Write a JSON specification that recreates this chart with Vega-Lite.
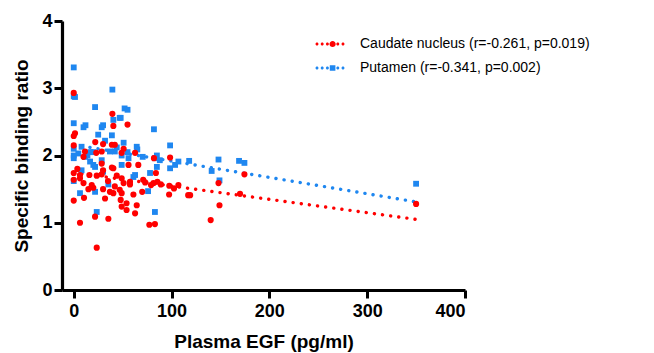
{
  "$schema": "https://vega.github.io/schema/vega-lite/v6.json",
  "width": 403,
  "height": 269,
  "autosize": {"type": "none"},
  "padding": {"left": 62, "top": 21, "right": 189, "bottom": 63},
  "background": "white",
  "config": {
    "view": {"stroke": null},
    "axis": {
      "grid": false,
      "domainColor": "black",
      "domainWidth": 3.2,
      "tickColor": "black",
      "tickWidth": 3,
      "tickSize": 8,
      "labelFont": "Liberation Sans",
      "labelFontWeight": "bold",
      "labelFontSize": 18,
      "labelColor": "black",
      "titleFont": "Liberation Sans",
      "titleFontWeight": "bold",
      "titleFontSize": 19,
      "titleColor": "black"
    }
  },
  "datasets": {
    "points": [
      {"region": "Putamen", "egf": 0, "sbr": 3.31},
      {"region": "Putamen", "egf": 39.5, "sbr": 2.98},
      {"region": "Putamen", "egf": 0, "sbr": 2.88},
      {"region": "Putamen", "egf": 1.3, "sbr": 2.87},
      {"region": "Putamen", "egf": 21.8, "sbr": 2.72},
      {"region": "Putamen", "egf": 0, "sbr": 2.48},
      {"region": "Putamen", "egf": 10, "sbr": 2.42},
      {"region": "Putamen", "egf": 12, "sbr": 2.45},
      {"region": "Putamen", "egf": 28.6, "sbr": 2.42},
      {"region": "Putamen", "egf": 30, "sbr": 2.45},
      {"region": "Putamen", "egf": 25, "sbr": 2.31},
      {"region": "Putamen", "egf": 40.5, "sbr": 2.53},
      {"region": "Putamen", "egf": 47, "sbr": 2.56},
      {"region": "Putamen", "egf": 52, "sbr": 2.7},
      {"region": "Putamen", "egf": 39, "sbr": 2.3},
      {"region": "Putamen", "egf": 0, "sbr": 2.1},
      {"region": "Putamen", "egf": 8, "sbr": 2.13},
      {"region": "Putamen", "egf": 17, "sbr": 2.05},
      {"region": "Putamen", "egf": 20, "sbr": 2.05},
      {"region": "Putamen", "egf": 55, "sbr": 2.68},
      {"region": "Putamen", "egf": 48, "sbr": 2.56},
      {"region": "Putamen", "egf": 82, "sbr": 2.39},
      {"region": "Putamen", "egf": 98.5, "sbr": 2.15},
      {"region": "Putamen", "egf": 51, "sbr": 2.19},
      {"region": "Putamen", "egf": 64.4, "sbr": 2.13},
      {"region": "Putamen", "egf": 65, "sbr": 2.09},
      {"region": "Putamen", "egf": 85, "sbr": 2.0},
      {"region": "Putamen", "egf": 70.5, "sbr": 1.98},
      {"region": "Putamen", "egf": 0, "sbr": 1.96},
      {"region": "Putamen", "egf": 6.4, "sbr": 1.44},
      {"region": "Putamen", "egf": 21.8, "sbr": 1.46},
      {"region": "Putamen", "egf": 35.4, "sbr": 1.57},
      {"region": "Putamen", "egf": 23.5, "sbr": 1.16},
      {"region": "Putamen", "egf": 4.7, "sbr": 2.03},
      {"region": "Putamen", "egf": 11.5, "sbr": 1.98},
      {"region": "Putamen", "egf": 16.7, "sbr": 1.91},
      {"region": "Putamen", "egf": 20, "sbr": 1.86},
      {"region": "Putamen", "egf": 21.8, "sbr": 1.83},
      {"region": "Putamen", "egf": 28.6, "sbr": 1.93},
      {"region": "Putamen", "egf": 30, "sbr": 1.76},
      {"region": "Putamen", "egf": 37, "sbr": 2.06},
      {"region": "Putamen", "egf": 42, "sbr": 2.06},
      {"region": "Putamen", "egf": 49, "sbr": 2.0},
      {"region": "Putamen", "egf": 56, "sbr": 1.96},
      {"region": "Putamen", "egf": 83, "sbr": 1.96},
      {"region": "Putamen", "egf": 88, "sbr": 1.93},
      {"region": "Putamen", "egf": 107, "sbr": 1.91},
      {"region": "Putamen", "egf": 98.5, "sbr": 1.81},
      {"region": "Putamen", "egf": 103.6, "sbr": 1.86},
      {"region": "Putamen", "egf": 49, "sbr": 1.86},
      {"region": "Putamen", "egf": 78, "sbr": 1.74},
      {"region": "Putamen", "egf": 85, "sbr": 1.83},
      {"region": "Putamen", "egf": 61, "sbr": 1.68},
      {"region": "Putamen", "egf": 62.7, "sbr": 1.71},
      {"region": "Putamen", "egf": 76, "sbr": 1.47},
      {"region": "Putamen", "egf": 83, "sbr": 1.16},
      {"region": "Putamen", "egf": 118, "sbr": 1.92},
      {"region": "Putamen", "egf": 148, "sbr": 1.94},
      {"region": "Putamen", "egf": 141, "sbr": 1.77},
      {"region": "Putamen", "egf": 169, "sbr": 1.92},
      {"region": "Putamen", "egf": 174.5, "sbr": 1.89},
      {"region": "Putamen", "egf": 149, "sbr": 1.63},
      {"region": "Putamen", "egf": 350, "sbr": 1.58},
      {"region": "Putamen", "egf": 0, "sbr": 2.0},
      {"region": "Putamen", "egf": 55, "sbr": 2.05},
      {"region": "Putamen", "egf": 44, "sbr": 2.12},
      {"region": "Putamen", "egf": 32, "sbr": 2.22},
      {"region": "Putamen", "egf": 14, "sbr": 2.0},
      {"region": "Putamen", "egf": 8, "sbr": 1.78},
      {"region": "Putamen", "egf": 0, "sbr": 1.62},
      {"region": "Caudate nucleus", "egf": 0, "sbr": 2.93},
      {"region": "Caudate nucleus", "egf": 39.5, "sbr": 2.62},
      {"region": "Caudate nucleus", "egf": 40.5, "sbr": 2.44},
      {"region": "Caudate nucleus", "egf": 1.3, "sbr": 2.33},
      {"region": "Caudate nucleus", "egf": 0, "sbr": 2.29},
      {"region": "Caudate nucleus", "egf": 0, "sbr": 2.15},
      {"region": "Caudate nucleus", "egf": 22, "sbr": 2.2},
      {"region": "Caudate nucleus", "egf": 30, "sbr": 2.17},
      {"region": "Caudate nucleus", "egf": 39, "sbr": 2.16},
      {"region": "Caudate nucleus", "egf": 42, "sbr": 2.16},
      {"region": "Caudate nucleus", "egf": 11.5, "sbr": 2.06},
      {"region": "Caudate nucleus", "egf": 23, "sbr": 2.04},
      {"region": "Caudate nucleus", "egf": 28.6, "sbr": 2.06},
      {"region": "Caudate nucleus", "egf": 55, "sbr": 2.46},
      {"region": "Caudate nucleus", "egf": 51, "sbr": 2.1},
      {"region": "Caudate nucleus", "egf": 62.7, "sbr": 2.04},
      {"region": "Caudate nucleus", "egf": 0, "sbr": 1.74},
      {"region": "Caudate nucleus", "egf": 0, "sbr": 1.64},
      {"region": "Caudate nucleus", "egf": 6.4, "sbr": 1.71},
      {"region": "Caudate nucleus", "egf": 6.4, "sbr": 1.66},
      {"region": "Caudate nucleus", "egf": 3.7, "sbr": 1.8},
      {"region": "Caudate nucleus", "egf": 16, "sbr": 1.71},
      {"region": "Caudate nucleus", "egf": 23.5, "sbr": 1.7},
      {"region": "Caudate nucleus", "egf": 30, "sbr": 1.78},
      {"region": "Caudate nucleus", "egf": 28.6, "sbr": 1.72},
      {"region": "Caudate nucleus", "egf": 39, "sbr": 1.82},
      {"region": "Caudate nucleus", "egf": 40.5, "sbr": 1.81},
      {"region": "Caudate nucleus", "egf": 10, "sbr": 1.59},
      {"region": "Caudate nucleus", "egf": 0, "sbr": 1.33},
      {"region": "Caudate nucleus", "egf": 10.5, "sbr": 1.37},
      {"region": "Caudate nucleus", "egf": 15, "sbr": 1.5},
      {"region": "Caudate nucleus", "egf": 18.4, "sbr": 1.56},
      {"region": "Caudate nucleus", "egf": 20, "sbr": 1.52},
      {"region": "Caudate nucleus", "egf": 32, "sbr": 1.36},
      {"region": "Caudate nucleus", "egf": 37, "sbr": 1.46},
      {"region": "Caudate nucleus", "egf": 40.5, "sbr": 1.44},
      {"region": "Caudate nucleus", "egf": 42, "sbr": 1.54},
      {"region": "Caudate nucleus", "egf": 47, "sbr": 1.49},
      {"region": "Caudate nucleus", "egf": 48, "sbr": 1.34},
      {"region": "Caudate nucleus", "egf": 21.8, "sbr": 1.09},
      {"region": "Caudate nucleus", "egf": 6.4, "sbr": 1.0},
      {"region": "Caudate nucleus", "egf": 35.4, "sbr": 1.06},
      {"region": "Caudate nucleus", "egf": 23.5, "sbr": 0.63},
      {"region": "Caudate nucleus", "egf": 28.6, "sbr": 1.88},
      {"region": "Caudate nucleus", "egf": 10, "sbr": 1.98},
      {"region": "Caudate nucleus", "egf": 49, "sbr": 2.04},
      {"region": "Caudate nucleus", "egf": 98.5, "sbr": 1.97},
      {"region": "Caudate nucleus", "egf": 82, "sbr": 1.96},
      {"region": "Caudate nucleus", "egf": 56, "sbr": 1.86},
      {"region": "Caudate nucleus", "egf": 66, "sbr": 1.86},
      {"region": "Caudate nucleus", "egf": 84, "sbr": 1.74},
      {"region": "Caudate nucleus", "egf": 49, "sbr": 1.66},
      {"region": "Caudate nucleus", "egf": 51, "sbr": 1.59},
      {"region": "Caudate nucleus", "egf": 57.5, "sbr": 1.61},
      {"region": "Caudate nucleus", "egf": 57.5, "sbr": 1.57},
      {"region": "Caudate nucleus", "egf": 71, "sbr": 1.64},
      {"region": "Caudate nucleus", "egf": 73, "sbr": 1.6},
      {"region": "Caudate nucleus", "egf": 79, "sbr": 1.56},
      {"region": "Caudate nucleus", "egf": 81.5, "sbr": 1.59},
      {"region": "Caudate nucleus", "egf": 85.5, "sbr": 1.61},
      {"region": "Caudate nucleus", "egf": 89, "sbr": 1.57},
      {"region": "Caudate nucleus", "egf": 97.7, "sbr": 1.55},
      {"region": "Caudate nucleus", "egf": 102.5, "sbr": 1.51},
      {"region": "Caudate nucleus", "egf": 107, "sbr": 1.56},
      {"region": "Caudate nucleus", "egf": 117, "sbr": 1.41},
      {"region": "Caudate nucleus", "egf": 97.5, "sbr": 1.42},
      {"region": "Caudate nucleus", "egf": 61, "sbr": 1.42},
      {"region": "Caudate nucleus", "egf": 70, "sbr": 1.46},
      {"region": "Caudate nucleus", "egf": 49, "sbr": 1.44},
      {"region": "Caudate nucleus", "egf": 54, "sbr": 1.29},
      {"region": "Caudate nucleus", "egf": 54, "sbr": 1.19},
      {"region": "Caudate nucleus", "egf": 49, "sbr": 1.24},
      {"region": "Caudate nucleus", "egf": 64.4, "sbr": 1.26},
      {"region": "Caudate nucleus", "egf": 62.7, "sbr": 1.14},
      {"region": "Caudate nucleus", "egf": 77.3, "sbr": 0.97},
      {"region": "Caudate nucleus", "egf": 83, "sbr": 0.98},
      {"region": "Caudate nucleus", "egf": 119, "sbr": 1.41},
      {"region": "Caudate nucleus", "egf": 148, "sbr": 1.59},
      {"region": "Caudate nucleus", "egf": 170, "sbr": 1.43},
      {"region": "Caudate nucleus", "egf": 174.5, "sbr": 1.72},
      {"region": "Caudate nucleus", "egf": 149, "sbr": 1.26},
      {"region": "Caudate nucleus", "egf": 140, "sbr": 1.04},
      {"region": "Caudate nucleus", "egf": 350, "sbr": 1.28},
      {"region": "Caudate nucleus", "egf": 30, "sbr": 1.5},
      {"region": "Caudate nucleus", "egf": 35, "sbr": 1.62},
      {"region": "Caudate nucleus", "egf": 44, "sbr": 1.7}
    ],
    "fits": [
      {"region": "Caudate nucleus", "egf": 0, "sbr": 1.745},
      {"region": "Caudate nucleus", "egf": 350, "sbr": 1.05},
      {"region": "Putamen", "egf": 0, "sbr": 2.16},
      {"region": "Putamen", "egf": 350, "sbr": 1.31}
    ]
  },
  "encoding": {
    "x": {
      "field": "egf",
      "type": "quantitative",
      "scale": {"domain": [-12, 400], "nice": false, "zero": false},
      "axis": {"values": [0, 100, 200, 300, 400], "title": "Plasma EGF (pg/ml)", "labelPadding": 4, "titlePadding": 12}
    },
    "y": {
      "field": "sbr",
      "type": "quantitative",
      "scale": {"domain": [0, 4], "nice": false},
      "axis": {"values": [0, 1, 2, 3, 4], "title": "Specific binding ratio", "labelPadding": 2, "titlePadding": 10}
    },
    "color": {
      "field": "region",
      "type": "nominal",
      "scale": {"domain": ["Caudate nucleus", "Putamen"], "range": ["#FF0000", "#1F87F0"]},
      "legend": {
        "orient": "none",
        "legendX": 261,
        "legendY": 16,
        "title": null,
        "padding": 0,
        "rowPadding": 10,
        "symbolSize": 100,
        "symbolStrokeWidth": 0,
        "labelOffset": 23,
        "labelFont": "Liberation Sans",
        "labelFontSize": 14,
        "labelColor": "black",
        "labelLimit": 400,
        "labelExpr": "datum.label == 'Caudate nucleus' ? 'Caudate nucleus (r=-0.261, p=0.019)' : 'Putamen (r=-0.341, p=0.002)'",
        "encode": {
          "symbols": {
            "update": {
              "shape": {"signal": "datum.value == 'Caudate nucleus' ? 'M-2.9 0a0.3 0.3 0 1 0 0.6 0a0.3 0.3 0 1 0 -0.6 0ZM-1.86 0a0.3 0.3 0 1 0 0.6 0a0.3 0.3 0 1 0 -0.6 0ZM-0.82 0a0.3 0.3 0 1 0 0.6 0a0.3 0.3 0 1 0 -0.6 0ZM1.26 0a0.3 0.3 0 1 0 0.6 0a0.3 0.3 0 1 0 -0.6 0ZM2.3 0a0.3 0.3 0 1 0 0.6 0a0.3 0.3 0 1 0 -0.6 0ZM-0.1 0a0.62 0.62 0 1 0 1.24 0a0.62 0.62 0 1 0 -1.24 0Z' : 'M-2.9 0a0.3 0.3 0 1 0 0.6 0a0.3 0.3 0 1 0 -0.6 0ZM-1.86 0a0.3 0.3 0 1 0 0.6 0a0.3 0.3 0 1 0 -0.6 0ZM-0.82 0a0.3 0.3 0 1 0 0.6 0a0.3 0.3 0 1 0 -0.6 0ZM1.26 0a0.3 0.3 0 1 0 0.6 0a0.3 0.3 0 1 0 -0.6 0ZM2.3 0a0.3 0.3 0 1 0 0.6 0a0.3 0.3 0 1 0 -0.6 0ZM-0.04 -0.56h1.12v1.12h-1.12Z'"},
              "strokeWidth": {"value": 0},
              "opacity": {"value": 1}
            }
          }
        }
      }
    }
  },
  "layer": [
    {
      "data": {"name": "fits"},
      "mark": {"type": "line", "strokeWidth": 3.4, "strokeCap": "round", "strokeDash": [0.1, 8.1]},
      "encoding": {"detail": {"field": "region"}}
    },
    {
      "data": {"name": "points"},
      "transform": [{"filter": "datum.region == 'Putamen'"}],
      "mark": {"type": "point", "shape": "square", "filled": true, "opacity": 1, "size": 34, "strokeWidth": 0}
    },
    {
      "data": {"name": "points"},
      "transform": [{"filter": "datum.region == 'Caudate nucleus'"}],
      "mark": {"type": "point", "shape": "circle", "filled": true, "opacity": 1, "size": 38, "strokeWidth": 0}
    }
  ]
}
